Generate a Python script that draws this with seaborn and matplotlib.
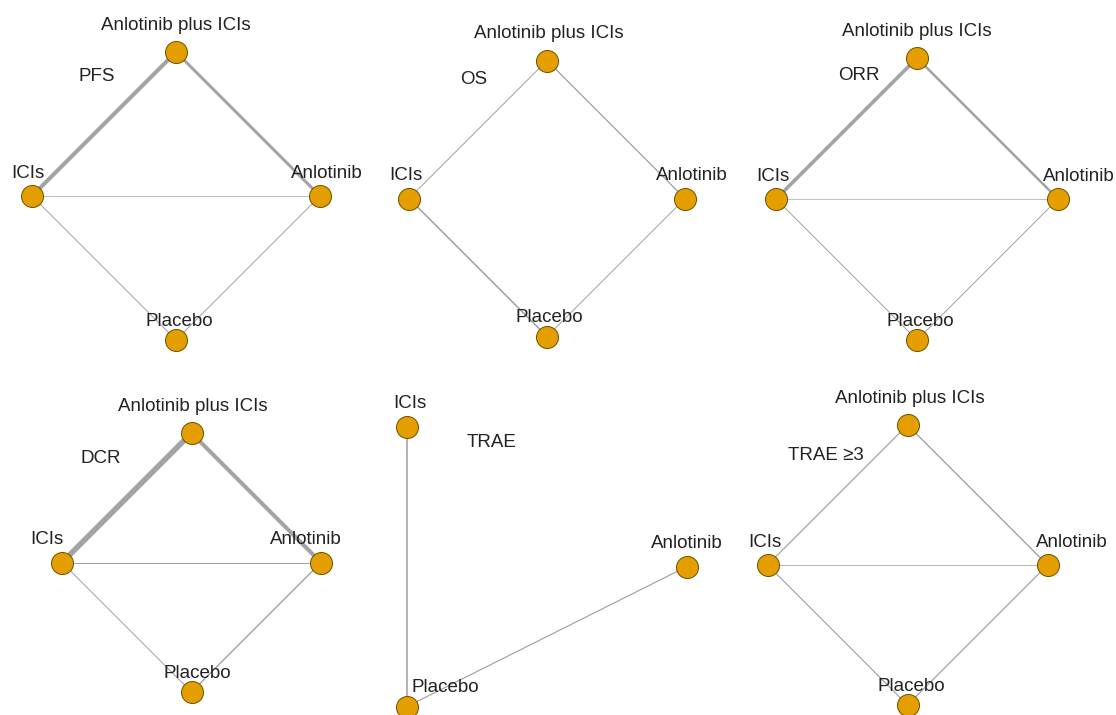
import matplotlib
matplotlib.use("Agg")
import matplotlib.pyplot as plt
import seaborn as sns
import pandas as pd

# ---- network data: outcome names, treatments and comparison edge weights ----
outcomes = ["PFS", "OS", "ORR", "DCR", "TRAE", "TRAE \u22653"]

treatments_full = ["Anlotinib plus ICIs", "ICIs", "Anlotinib", "Placebo"]
treatments_trae = ["ICIs", "Anlotinib", "Placebo"]

edges_pfs = [("Anlotinib plus ICIs", "ICIs", 4.0), ("Anlotinib plus ICIs", "Anlotinib", 3.0),
             ("ICIs", "Anlotinib", 0.7), ("ICIs", "Placebo", 1.0), ("Anlotinib", "Placebo", 1.0)]
edges_os = [("Anlotinib plus ICIs", "ICIs", 1.0), ("Anlotinib plus ICIs", "Anlotinib", 1.3),
            ("ICIs", "Placebo", 1.6), ("Anlotinib", "Placebo", 1.0)]
edges_orr = [("Anlotinib plus ICIs", "ICIs", 3.5), ("Anlotinib plus ICIs", "Anlotinib", 2.5),
             ("ICIs", "Anlotinib", 0.7), ("ICIs", "Placebo", 1.0), ("Anlotinib", "Placebo", 1.0)]
edges_dcr = [("Anlotinib plus ICIs", "ICIs", 5.5), ("Anlotinib plus ICIs", "Anlotinib", 4.0),
             ("ICIs", "Anlotinib", 1.0), ("ICIs", "Placebo", 1.0), ("Anlotinib", "Placebo", 1.4)]
edges_trae = [("ICIs", "Placebo", 1.6), ("Anlotinib", "Placebo", 1.2)]
edges_trae3 = [("Anlotinib plus ICIs", "ICIs", 1.2), ("Anlotinib plus ICIs", "Anlotinib", 1.4),
               ("ICIs", "Anlotinib", 0.8), ("ICIs", "Placebo", 1.2), ("Anlotinib", "Placebo", 1.2)]

# ---- layout (pixel canvas) ----
W, H, DPI = 1116, 715, 100
PX = 72.0 / DPI  # points per pixel

diamond = {"Anlotinib plus ICIs": (0, -1), "ICIs": (-1, 0), "Anlotinib": (1, 0), "Placebo": (0, 1)}
diamond_trae = {"ICIs": (-1, -1), "Anlotinib": (1, 0), "Placebo": (-1, 1)}

panels = [
    # centre, half-size, unit layout, title anchor, label x-offsets
    dict(centre=(176, 196), half=144, unit=diamond, title=(78, 81),
         nodes=treatments_full, edges=edges_pfs,
         dx={"ICIs": -4, "Anlotinib": 7, "Placebo": 3, "Anlotinib plus ICIs": 0}),
    dict(centre=(547, 198.5), half=138, unit=diamond, title=(460, 84),
         nodes=treatments_full, edges=edges_os,
         dx={"ICIs": -3, "Anlotinib": 7, "Placebo": 2, "Anlotinib plus ICIs": 2}),
    dict(centre=(917, 199), half=141, unit=diamond, title=(838, 80),
         nodes=treatments_full, edges=edges_orr,
         dx={"ICIs": -3, "Anlotinib": 21, "Placebo": 3, "Anlotinib plus ICIs": 0}),
    dict(centre=(191.5, 562.5), half=129.5, unit=diamond, title=(80, 463),
         nodes=treatments_full, edges=edges_dcr,
         dx={"ICIs": -15, "Anlotinib": -15, "Placebo": 6, "Anlotinib plus ICIs": 1}),
    dict(centre=(547, 566.5), half=140, unit=diamond_trae, title=(467, 447),
         nodes=treatments_trae, edges=edges_trae,
         dx={"ICIs": 3, "Anlotinib": 0, "Placebo": 38}),
    dict(centre=(907.5, 565), half=140, unit=diamond, title=(788, 460),
         nodes=treatments_full, edges=edges_trae3,
         dx={"ICIs": -3, "Anlotinib": 24, "Placebo": 4, "Anlotinib plus ICIs": 2}),
]

# baseline offset of node labels above the node centre, by position in the diamond
def label_rise(u):
    if u[1] < 0 and u[0] == 0:
        return 22
    if u[1] > 0:
        return 14
    return 18

sns.set_theme(style="white")
plt.rcParams["font.family"] = ["Liberation Sans", "DejaVu Sans"]

fig = plt.figure(figsize=(W / DPI, H / DPI), dpi=DPI)
ax = fig.add_axes([0, 0, 1, 1])
ax.set_xlim(0, W)
ax.set_ylim(H, 0)
ax.axis("off")

node_color = "#E59E00"
edge_color = "#a3a3a3"
text_color = "#222222"

rows = []
for name, p in zip(outcomes, panels):
    cx, cy = p["centre"]
    h = p["half"]
    pos = {t: (cx + h * p["unit"][t][0], cy + h * p["unit"][t][1]) for t in p["nodes"]}

    for a, b, w in p["edges"]:
        ax.plot([pos[a][0], pos[b][0]], [pos[a][1], pos[b][1]],
                color=edge_color, lw=w * PX, solid_capstyle="butt", zorder=1)

    for t in p["nodes"]:
        x, y = pos[t]
        rows.append(dict(outcome=name, treatment=t, x=x, y=y))
        ax.text(x + p["dx"].get(t, 0), y - label_rise(p["unit"][t]), t,
                ha="center", va="baseline", fontsize=13.5, color=text_color, zorder=4)

    ax.text(p["title"][0], p["title"][1], name, ha="left", va="baseline",
            fontsize=13.5, color=text_color, zorder=4)

nodes_df = pd.DataFrame(rows)
sns.scatterplot(data=nodes_df, x="x", y="y", ax=ax, s=(22 * PX) ** 2,
                color=node_color, edgecolor="#6b5000", linewidth=0.7,
                legend=False, zorder=3)
ax.set_xlim(0, W)
ax.set_ylim(H, 0)
ax.axis("off")

fig.savefig("out.png", dpi=DPI, facecolor="white")
